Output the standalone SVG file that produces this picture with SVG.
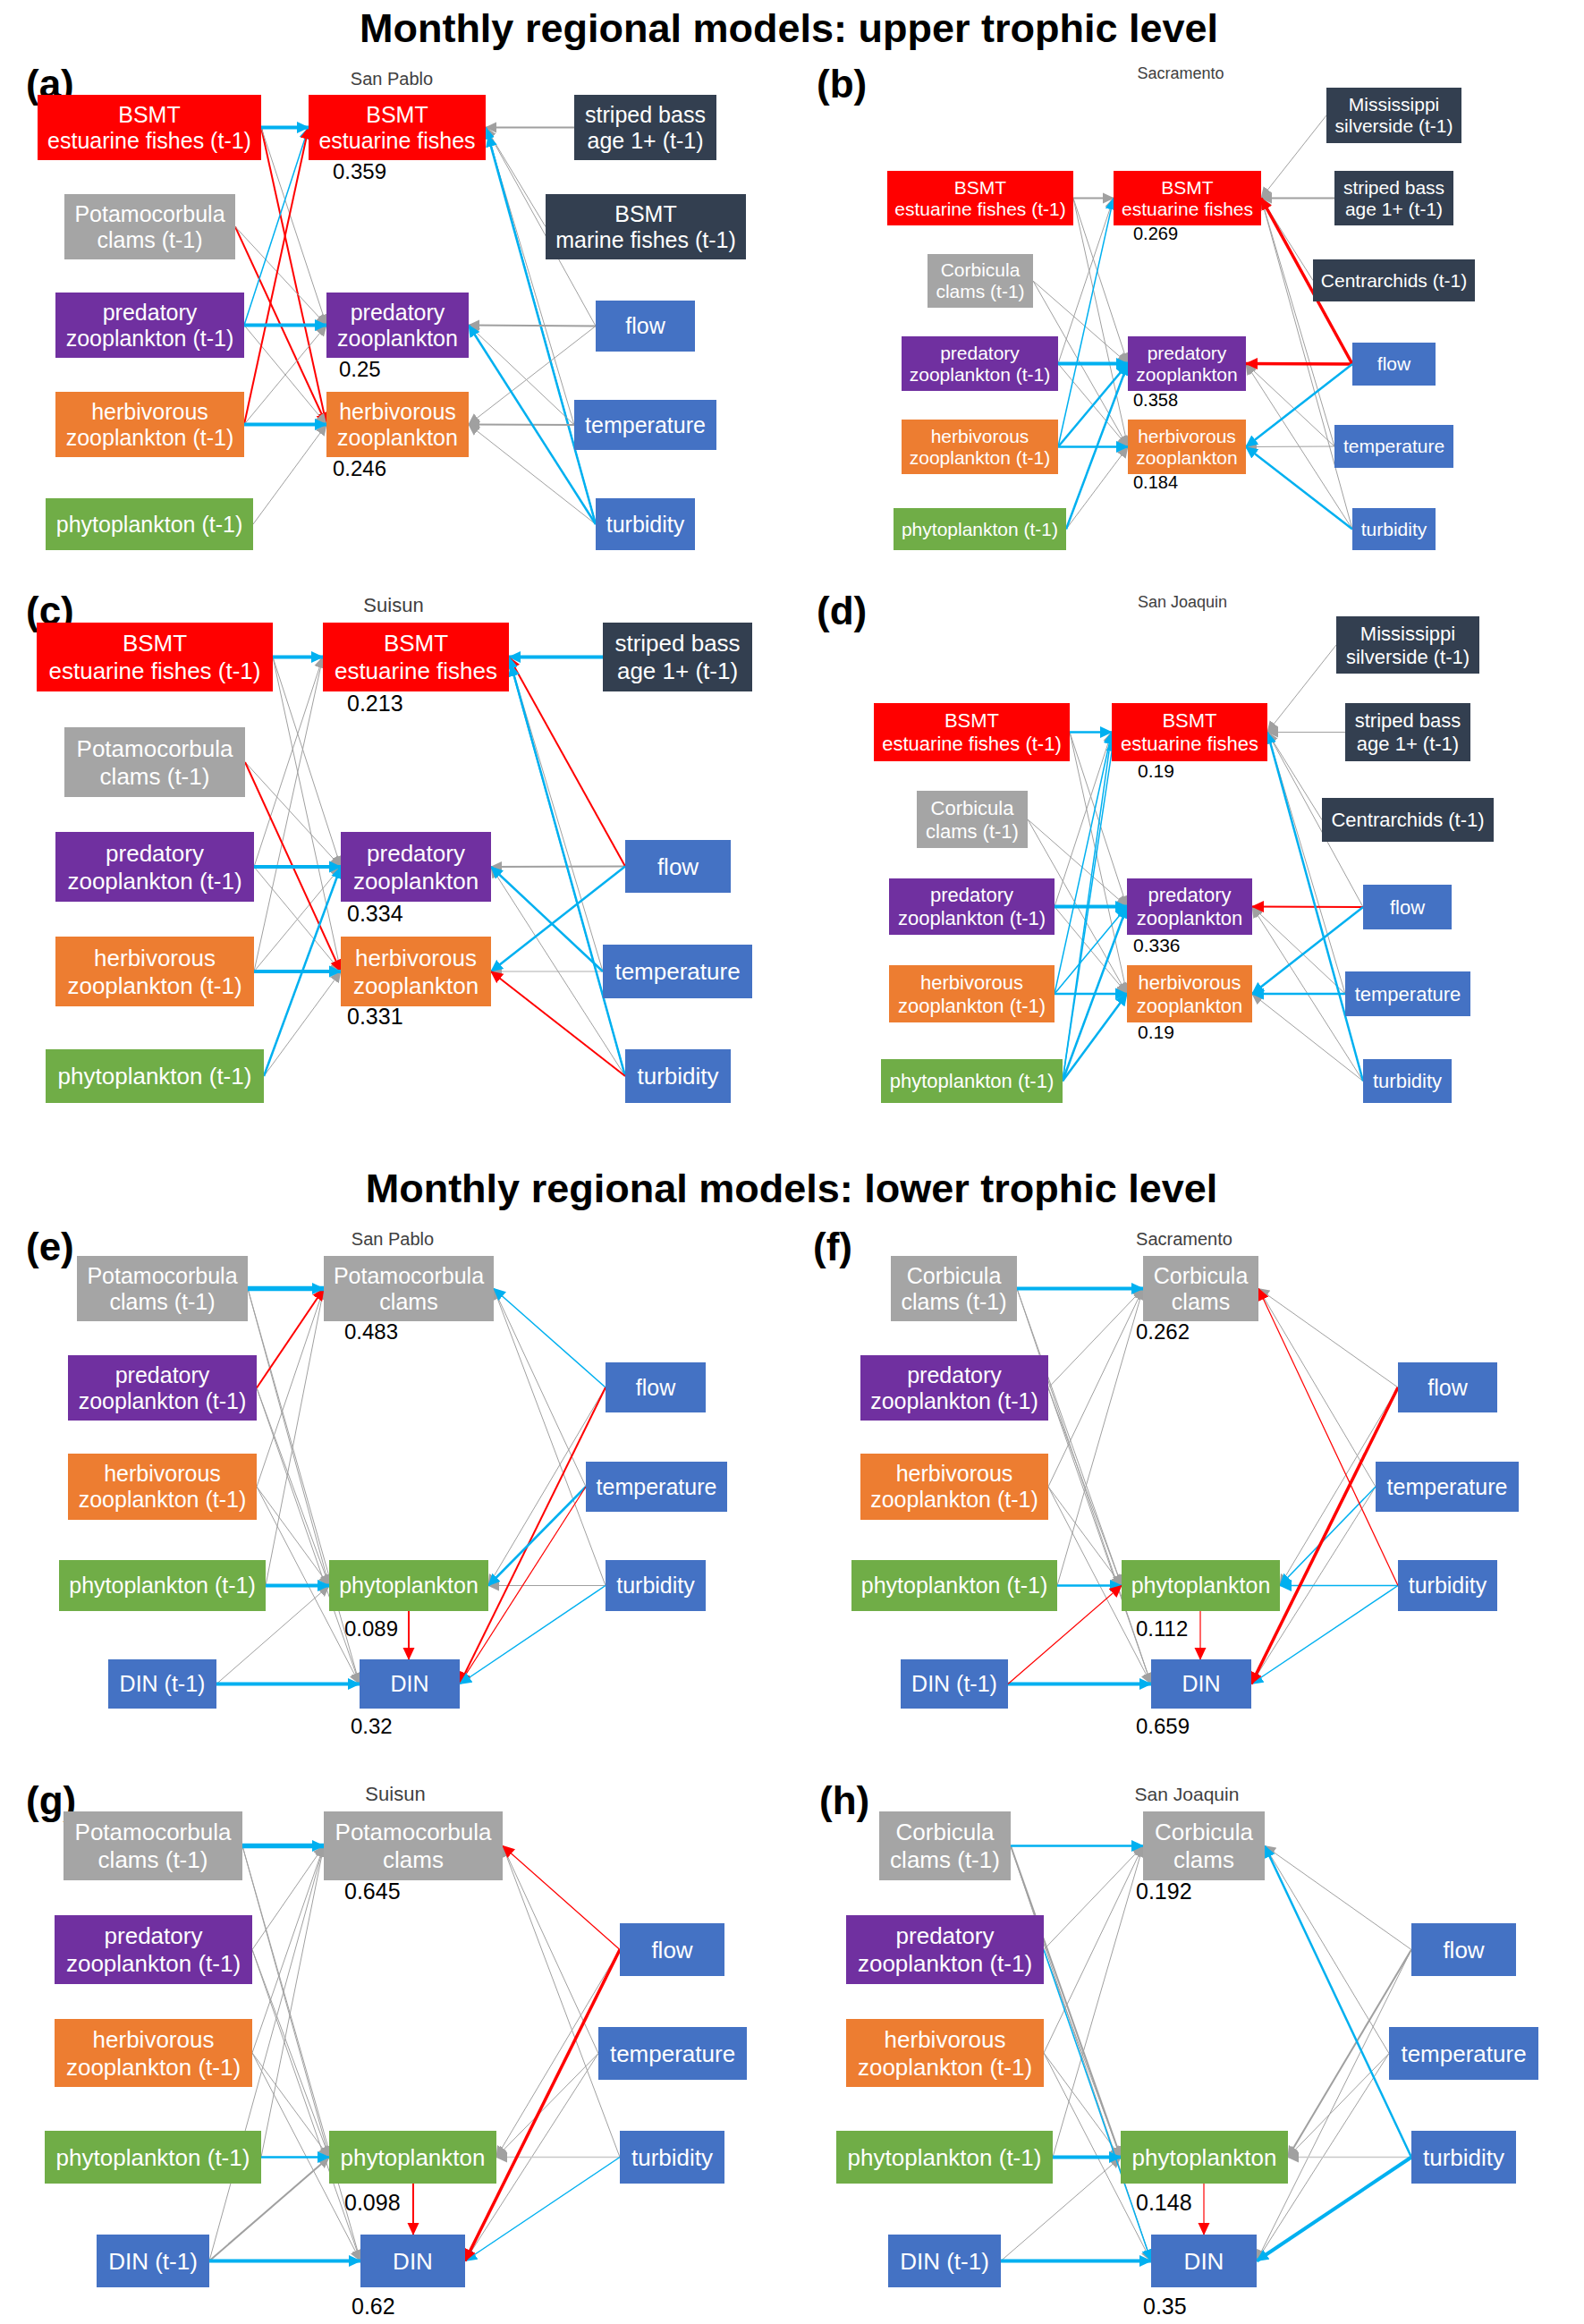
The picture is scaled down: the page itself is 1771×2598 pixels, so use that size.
<svg xmlns="http://www.w3.org/2000/svg" width="1771" height="2598" viewBox="0 0 1771 2598">
<style>
text{font-family:"Liberation Sans",Arial,sans-serif}
.title{font-size:45px;font-weight:bold;text-anchor:middle;fill:#000}
.pl{font-size:44px;font-weight:bold;fill:#000}
.reg{fill:#404040;text-anchor:middle}
.val{fill:#000}
.t21,.t22,.t25,.t26{fill:#fff;text-anchor:middle}
.t21{font-size:21px}.t22{font-size:22px}.t25{font-size:25px}.t26{font-size:26px}
.red{fill:#FF0000}.dk{fill:#333F50}.gr{fill:#A5A5A5}.pu{fill:#7030A0}.or{fill:#ED7D31}.gn{fill:#70AD47}.bl{fill:#4472C4}
line{fill:none}
.bx{stroke:#00B0F0;stroke-width:5.5;marker-end:url(#mb)}
.bt{stroke:#00B0F0;stroke-width:4;marker-end:url(#mb)}
.bm{stroke:#00B0F0;stroke-width:2.5;marker-end:url(#mb)}
.bs{stroke:#00B0F0;stroke-width:1.5;marker-end:url(#mb)}
.gt{stroke:#A0A0A0;stroke-width:2;marker-end:url(#mg)}
.gs{stroke:#A0A0A0;stroke-width:1;marker-end:url(#mg)}
.gl{stroke:#C8C8C8;stroke-width:1.5;marker-end:url(#mg)}
.rt{stroke:#FF0000;stroke-width:3.5;marker-end:url(#mr)}
.rm{stroke:#FF0000;stroke-width:2;marker-end:url(#mr)}
.rs{stroke:#FF0000;stroke-width:1.2;marker-end:url(#mr)}
</style>
<defs>
<marker id="mb" markerUnits="userSpaceOnUse" markerWidth="14" markerHeight="14" viewBox="0 0 14 14" refX="13" refY="7" orient="auto"><path d="M0,0.5 L14,7 L0,13.5 z" fill="#00B0F0"/></marker>
<marker id="mg" markerUnits="userSpaceOnUse" markerWidth="13" markerHeight="13" viewBox="0 0 14 14" refX="13" refY="7" orient="auto"><path d="M0,0.5 L14,7 L0,13.5 z" fill="#A0A0A0"/></marker>
<marker id="mr" markerUnits="userSpaceOnUse" markerWidth="14" markerHeight="14" viewBox="0 0 14 14" refX="13" refY="7" orient="auto"><path d="M0,0.5 L14,7 L0,13.5 z" fill="#FF0000"/></marker>
</defs>
<rect width="1771" height="2598" fill="#fff"/>

<text class="title" x="882" y="47">Monthly regional models: upper trophic level</text>
<text class="title" x="885" y="1344">Monthly regional models: lower trophic level</text>

<g id="labels">
<text class="pl" x="29" y="109">(a)</text>
<text class="pl" x="913" y="109">(b)</text>
<text class="pl" x="29" y="698">(c)</text>
<text class="pl" x="913" y="698">(d)</text>
<text class="pl" x="29" y="1409">(e)</text>
<text class="pl" x="909" y="1409">(f)</text>
<text class="pl" x="29" y="2028">(g)</text>
<text class="pl" x="916" y="2028">(h)</text>
<text class="reg" x="438" y="95" font-size="20">San Pablo</text>
<text class="reg" x="1320" y="88" font-size="18">Sacramento</text>
<text class="reg" x="440" y="684" font-size="22">Suisun</text>
<text class="reg" x="1322" y="679" font-size="18">San Joaquin</text>
<text class="reg" x="439" y="1392" font-size="20">San Pablo</text>
<text class="reg" x="1324" y="1392" font-size="20">Sacramento</text>
<text class="reg" x="442" y="2013" font-size="22">Suisun</text>
<text class="reg" x="1327" y="2013" font-size="21">San Joaquin</text>
<text class="val" x="372" y="200" font-size="24">0.359</text>
<text class="val" x="379" y="421" font-size="24">0.25</text>
<text class="val" x="372" y="532" font-size="24">0.246</text>
<text class="val" x="1267" y="268" font-size="20">0.269</text>
<text class="val" x="1267" y="454" font-size="20">0.358</text>
<text class="val" x="1267" y="546" font-size="20">0.184</text>
<text class="val" x="388" y="795" font-size="25">0.213</text>
<text class="val" x="388" y="1030" font-size="25">0.334</text>
<text class="val" x="388" y="1145" font-size="25">0.331</text>
<text class="val" x="1272" y="869" font-size="21">0.19</text>
<text class="val" x="1267" y="1064" font-size="21">0.336</text>
<text class="val" x="1272" y="1161" font-size="21">0.19</text>
<text class="val" x="385" y="1497" font-size="24">0.483</text>
<text class="val" x="385" y="1829" font-size="24">0.089</text>
<text class="val" x="392" y="1938" font-size="24">0.32</text>
<text class="val" x="1270" y="1497" font-size="24">0.262</text>
<text class="val" x="1270" y="1829" font-size="24">0.112</text>
<text class="val" x="1270" y="1938" font-size="24">0.659</text>
<text class="val" x="385" y="2123" font-size="25">0.645</text>
<text class="val" x="385" y="2471" font-size="25">0.098</text>
<text class="val" x="393" y="2587" font-size="25">0.62</text>
<text class="val" x="1270" y="2123" font-size="25">0.192</text>
<text class="val" x="1270" y="2471" font-size="25">0.148</text>
<text class="val" x="1278" y="2587" font-size="25">0.35</text>
</g>

<g id="connectors">
<!-- (a) -->
<line x1="292" y1="142.5" x2="365" y2="474.5" class="rm"/>
<line x1="292" y1="142.5" x2="365" y2="363.5" class="gs"/>
<line x1="263" y1="253.5" x2="365" y2="474.5" class="rm"/>
<line x1="263" y1="253.5" x2="365" y2="363.5" class="gs"/>
<line x1="273" y1="363.5" x2="345" y2="142.5" class="bs"/>
<line x1="273" y1="363.5" x2="365" y2="474.5" class="gs"/>
<line x1="273" y1="474.5" x2="345" y2="142.5" class="rm"/>
<line x1="273" y1="474.5" x2="365" y2="363.5" class="gs"/>
<line x1="283" y1="586" x2="365" y2="474.5" class="gs"/>
<line x1="292" y1="142.5" x2="345" y2="142.5" class="bt"/>
<line x1="273" y1="363.5" x2="365" y2="363.5" class="bt"/>
<line x1="273" y1="474.5" x2="365" y2="474.5" class="bt"/>
<line x1="642" y1="142.5" x2="543" y2="142.5" class="gt"/>
<line x1="610" y1="253.5" x2="543" y2="142.5" class="gs"/>
<line x1="666" y1="364.5" x2="543" y2="142.5" class="gs"/>
<line x1="642" y1="475" x2="543" y2="142.5" class="gs"/>
<line x1="666" y1="586" x2="543" y2="142.5" class="bm"/>
<line x1="666" y1="586" x2="546" y2="151" class="bs"/>
<line x1="666" y1="364.5" x2="524" y2="363.5" class="gt"/>
<line x1="666" y1="364.5" x2="524" y2="474.5" class="gs"/>
<line x1="642" y1="475" x2="524" y2="363.5" class="gs"/>
<line x1="642" y1="475" x2="524" y2="474.5" class="gt"/>
<line x1="666" y1="586" x2="524" y2="474.5" class="gs"/>
<line x1="666" y1="586" x2="524" y2="363.5" class="bm"/>
<!-- (b) -->
<line x1="1200" y1="221.5" x2="1245" y2="221.5" class="gt"/>
<line x1="1200" y1="221.5" x2="1261" y2="406.5" class="gs"/>
<line x1="1200" y1="221.5" x2="1261" y2="499.5" class="gs"/>
<line x1="1155" y1="314" x2="1261" y2="406.5" class="gs"/>
<line x1="1155" y1="314" x2="1261" y2="499.5" class="gs"/>
<line x1="1183" y1="406.5" x2="1245" y2="221.5" class="gs"/>
<line x1="1183" y1="406.5" x2="1261" y2="499.5" class="gs"/>
<line x1="1192" y1="591.5" x2="1261" y2="499.5" class="gs"/>
<line x1="1183" y1="406.5" x2="1261" y2="406.5" class="bt"/>
<line x1="1183" y1="499.5" x2="1261" y2="499.5" class="bm"/>
<line x1="1183" y1="499.5" x2="1245" y2="221.5" class="bs"/>
<line x1="1183" y1="499.5" x2="1261" y2="406.5" class="bm"/>
<line x1="1192" y1="591.5" x2="1261" y2="406.5" class="bm"/>
<line x1="1483" y1="129" x2="1410" y2="221.5" class="gs"/>
<line x1="1492" y1="221.5" x2="1410" y2="221.5" class="gt"/>
<line x1="1468" y1="313.5" x2="1410" y2="221.5" class="gs"/>
<line x1="1492" y1="499" x2="1410" y2="221.5" class="gs"/>
<line x1="1492" y1="499" x2="1393" y2="406.5" class="gs"/>
<line x1="1492" y1="499" x2="1393" y2="499.5" class="gs"/>
<line x1="1512" y1="591.5" x2="1410" y2="221.5" class="gs"/>
<line x1="1512" y1="591.5" x2="1393" y2="406.5" class="gs"/>
<line x1="1512" y1="407" x2="1410" y2="221.5" class="rt"/>
<line x1="1512" y1="407" x2="1393" y2="406.5" class="rt"/>
<line x1="1512" y1="407" x2="1393" y2="499.5" class="bm"/>
<line x1="1512" y1="591.5" x2="1393" y2="499.5" class="bm"/>
<!-- (c) -->
<line x1="305" y1="734.5" x2="381" y2="969" class="gs"/>
<line x1="305" y1="734.5" x2="381" y2="1086" class="gs"/>
<line x1="274" y1="852" x2="381" y2="969" class="gs"/>
<line x1="284" y1="969" x2="361" y2="734.5" class="gs"/>
<line x1="284" y1="969" x2="381" y2="1086" class="gs"/>
<line x1="284" y1="1086" x2="361" y2="734.5" class="gs"/>
<line x1="284" y1="1086" x2="381" y2="969" class="gs"/>
<line x1="295" y1="1203" x2="381" y2="1086" class="gs"/>
<line x1="274" y1="852" x2="381" y2="1086" class="rm"/>
<line x1="305" y1="734.5" x2="361" y2="734.5" class="bt"/>
<line x1="284" y1="969" x2="381" y2="969" class="bt"/>
<line x1="284" y1="1086" x2="381" y2="1086" class="bt"/>
<line x1="295" y1="1203" x2="381" y2="969" class="bm"/>
<line x1="674" y1="1086" x2="549" y2="1086" class="gl"/>
<line x1="674" y1="1086" x2="569" y2="734.5" class="gs"/>
<line x1="699" y1="1203" x2="549" y2="969" class="gs"/>
<line x1="699" y1="968.5" x2="549" y2="969" class="gt"/>
<line x1="674" y1="734.5" x2="569" y2="734.5" class="bt"/>
<line x1="699" y1="968.5" x2="569" y2="734.5" class="rm"/>
<line x1="699" y1="968.5" x2="549" y2="1086" class="bm"/>
<line x1="674" y1="1086" x2="549" y2="969" class="bm"/>
<line x1="699" y1="1203" x2="569" y2="734.5" class="bm"/>
<line x1="699" y1="1203" x2="571" y2="743" class="bs"/>
<line x1="699" y1="1203" x2="549" y2="1086" class="rm"/>
<!-- (d) -->
<line x1="1196" y1="818.5" x2="1260" y2="1013.5" class="gs"/>
<line x1="1196" y1="818.5" x2="1260" y2="1111" class="gs"/>
<line x1="1149" y1="916" x2="1260" y2="1013.5" class="gs"/>
<line x1="1149" y1="916" x2="1260" y2="1111" class="gs"/>
<line x1="1179" y1="1013.5" x2="1243" y2="818.5" class="gs"/>
<line x1="1179" y1="1013.5" x2="1260" y2="1111" class="gs"/>
<line x1="1196" y1="818.5" x2="1243" y2="818.5" class="bm"/>
<line x1="1179" y1="1013.5" x2="1260" y2="1013.5" class="bt"/>
<line x1="1179" y1="1111" x2="1260" y2="1111" class="bm"/>
<line x1="1179" y1="1111" x2="1243" y2="818.5" class="bs"/>
<line x1="1179" y1="1111" x2="1260" y2="1013.5" class="bs"/>
<line x1="1188" y1="1208.5" x2="1243" y2="818.5" class="bs"/>
<line x1="1188" y1="1208.5" x2="1245" y2="827" class="bs"/>
<line x1="1188" y1="1208.5" x2="1260" y2="1013.5" class="bm"/>
<line x1="1188" y1="1208.5" x2="1260" y2="1111" class="bm"/>
<line x1="1494" y1="721" x2="1417" y2="818.5" class="gs"/>
<line x1="1504" y1="818.5" x2="1417" y2="818.5" class="gs"/>
<line x1="1478" y1="916.5" x2="1417" y2="818.5" class="gs"/>
<line x1="1524" y1="1014" x2="1417" y2="818.5" class="gs"/>
<line x1="1504" y1="1111" x2="1400" y2="1013.5" class="gs"/>
<line x1="1504" y1="1111" x2="1417" y2="818.5" class="gs"/>
<line x1="1524" y1="1208.5" x2="1400" y2="1013.5" class="gs"/>
<line x1="1524" y1="1208.5" x2="1400" y2="1111" class="gs"/>
<line x1="1524" y1="1014" x2="1400" y2="1013.5" class="rm"/>
<line x1="1524" y1="1014" x2="1400" y2="1111" class="bm"/>
<line x1="1504" y1="1111" x2="1400" y2="1111" class="bm"/>
<line x1="1524" y1="1208.5" x2="1417" y2="818.5" class="bm"/>
<!-- (e) -->
<line x1="277" y1="1440.5" x2="368" y2="1772.5" class="gs"/>
<line x1="277" y1="1440.5" x2="402" y2="1882.5" class="gs"/>
<line x1="287" y1="1551.5" x2="368" y2="1772.5" class="gs"/>
<line x1="287" y1="1551.5" x2="402" y2="1882.5" class="gs"/>
<line x1="287" y1="1662" x2="362" y2="1440.5" class="gs"/>
<line x1="287" y1="1662" x2="368" y2="1772.5" class="gs"/>
<line x1="287" y1="1662" x2="402" y2="1882.5" class="gs"/>
<line x1="297" y1="1772.5" x2="362" y2="1440.5" class="gs"/>
<line x1="242" y1="1882.5" x2="368" y2="1772.5" class="gs" stroke-width="0.7"/>
<line x1="287" y1="1551.5" x2="362" y2="1440.5" class="rm"/>
<line x1="277" y1="1440.5" x2="362" y2="1440.5" class="bx"/>
<line x1="297" y1="1772.5" x2="368" y2="1772.5" class="bt"/>
<line x1="242" y1="1882.5" x2="402" y2="1882.5" class="bt"/>
<line x1="457" y1="1801" x2="457" y2="1855" class="rm"/>
<line x1="677" y1="1551" x2="546" y2="1772.5" class="gs"/>
<line x1="655" y1="1662" x2="552" y2="1440.5" class="gs"/>
<line x1="677" y1="1772.5" x2="546" y2="1772.5" class="gs"/>
<line x1="677" y1="1772.5" x2="552" y2="1440.5" class="gs"/>
<line x1="677" y1="1551" x2="552" y2="1440.5" class="bs"/>
<line x1="677" y1="1551" x2="514" y2="1882.5" class="rm"/>
<line x1="655" y1="1662" x2="546" y2="1772.5" class="bm"/>
<line x1="655" y1="1662" x2="514" y2="1882.5" class="rs"/>
<line x1="677" y1="1772.5" x2="514" y2="1882.5" class="bs"/>
<!-- (f) -->
<line x1="1137" y1="1440.5" x2="1254" y2="1772.5" class="gs"/>
<line x1="1137" y1="1440.5" x2="1287" y2="1882.5" class="gs"/>
<line x1="1172" y1="1551.5" x2="1278" y2="1440.5" class="gs"/>
<line x1="1172" y1="1551.5" x2="1254" y2="1772.5" class="gs"/>
<line x1="1172" y1="1551.5" x2="1287" y2="1882.5" class="gs"/>
<line x1="1172" y1="1662" x2="1278" y2="1440.5" class="gs"/>
<line x1="1172" y1="1662" x2="1254" y2="1772.5" class="gs"/>
<line x1="1172" y1="1662" x2="1287" y2="1882.5" class="gs"/>
<line x1="1182" y1="1772.5" x2="1278" y2="1440.5" class="gs"/>
<line x1="1137" y1="1440.5" x2="1278" y2="1440.5" class="bt"/>
<line x1="1182" y1="1772.5" x2="1254" y2="1772.5" class="bm"/>
<line x1="1127" y1="1882.5" x2="1287" y2="1882.5" class="bt"/>
<line x1="1127" y1="1882.5" x2="1254" y2="1772.5" class="rs"/>
<line x1="1342" y1="1801" x2="1342" y2="1855" class="rs"/>
<line x1="1563" y1="1551" x2="1407" y2="1440.5" class="gs"/>
<line x1="1563" y1="1551" x2="1431" y2="1772.5" class="gs"/>
<line x1="1538" y1="1662" x2="1399" y2="1882.5" class="gs"/>
<line x1="1538" y1="1662" x2="1407" y2="1440.5" class="gs"/>
<line x1="1538" y1="1662" x2="1431" y2="1772.5" class="bs"/>
<line x1="1563" y1="1772.5" x2="1431" y2="1772.5" class="bs"/>
<line x1="1563" y1="1772.5" x2="1399" y2="1882.5" class="bs"/>
<line x1="1563" y1="1772.5" x2="1407" y2="1440.5" class="rs"/>
<line x1="1563" y1="1551" x2="1399" y2="1882.5" class="rt"/>
<!-- (g) -->
<line x1="271" y1="2063.5" x2="368" y2="2411.5" class="gs"/>
<line x1="271" y1="2063.5" x2="403" y2="2527.5" class="gs"/>
<line x1="282" y1="2179.5" x2="362" y2="2063.5" class="gs"/>
<line x1="282" y1="2179.5" x2="368" y2="2411.5" class="gs"/>
<line x1="282" y1="2179.5" x2="403" y2="2527.5" class="gs"/>
<line x1="282" y1="2295" x2="362" y2="2063.5" class="gs"/>
<line x1="282" y1="2295" x2="368" y2="2411.5" class="gs"/>
<line x1="282" y1="2295" x2="403" y2="2527.5" class="gs"/>
<line x1="292" y1="2411.5" x2="362" y2="2063.5" class="gs"/>
<line x1="234" y1="2527.5" x2="362" y2="2063.5" class="gs" stroke-width="0.7"/>
<line x1="234" y1="2527.5" x2="368" y2="2411.5" class="gt"/>
<line x1="271" y1="2063.5" x2="362" y2="2063.5" class="bx"/>
<line x1="292" y1="2411.5" x2="368" y2="2411.5" class="bm"/>
<line x1="234" y1="2527.5" x2="403" y2="2527.5" class="bt"/>
<line x1="462" y1="2441" x2="462" y2="2498" class="rm"/>
<line x1="693" y1="2179.5" x2="555" y2="2411.5" class="gs"/>
<line x1="669" y1="2295.5" x2="555" y2="2411.5" class="gs"/>
<line x1="669" y1="2295.5" x2="562" y2="2063.5" class="gs"/>
<line x1="669" y1="2295.5" x2="520" y2="2527.5" class="gs"/>
<line x1="693" y1="2411.5" x2="555" y2="2411.5" class="gl"/>
<line x1="693" y1="2411.5" x2="562" y2="2063.5" class="gs"/>
<line x1="693" y1="2411.5" x2="520" y2="2527.5" class="bs"/>
<line x1="693" y1="2179.5" x2="562" y2="2063.5" class="rs"/>
<line x1="693" y1="2179.5" x2="520" y2="2527.5" class="rt"/>
<!-- (h) -->
<line x1="1130" y1="2063.5" x2="1253" y2="2411.5" class="gt"/>
<line x1="1130" y1="2063.5" x2="1287" y2="2527.5" class="gs"/>
<line x1="1167" y1="2179.5" x2="1278" y2="2063.5" class="gs"/>
<line x1="1167" y1="2179.5" x2="1253" y2="2411.5" class="gs"/>
<line x1="1167" y1="2295" x2="1278" y2="2063.5" class="gs"/>
<line x1="1167" y1="2295" x2="1253" y2="2411.5" class="gs"/>
<line x1="1167" y1="2295" x2="1287" y2="2527.5" class="gs"/>
<line x1="1177" y1="2411.5" x2="1278" y2="2063.5" class="gs"/>
<line x1="1119" y1="2527.5" x2="1253" y2="2411.5" class="gs"/>
<line x1="1167" y1="2179.5" x2="1287" y2="2527.5" class="bs"/>
<line x1="1130" y1="2063.5" x2="1278" y2="2063.5" class="bm"/>
<line x1="1177" y1="2411.5" x2="1253" y2="2411.5" class="bt"/>
<line x1="1119" y1="2527.5" x2="1287" y2="2527.5" class="bt"/>
<line x1="1346" y1="2441" x2="1346" y2="2498" class="rs"/>
<line x1="1578" y1="2179.5" x2="1414" y2="2063.5" class="gs"/>
<line x1="1578" y1="2179.5" x2="1440" y2="2411.5" class="gt"/>
<line x1="1578" y1="2179.5" x2="1405" y2="2527.5" class="gs"/>
<line x1="1553" y1="2295.5" x2="1414" y2="2063.5" class="gs"/>
<line x1="1553" y1="2295.5" x2="1440" y2="2411.5" class="gs"/>
<line x1="1553" y1="2295.5" x2="1405" y2="2527.5" class="gs"/>
<line x1="1578" y1="2411.5" x2="1440" y2="2411.5" class="gl"/>
<line x1="1578" y1="2411.5" x2="1414" y2="2063.5" class="bm"/>
<line x1="1578" y1="2411.5" x2="1405" y2="2527.5" class="bt"/>
</g>

<!-- (a) nodes -->
<g id="a-bsmt-t1"><rect class="red" x="42" y="106" width="250" height="73"/><text class="t25" x="167" y="136.75"><tspan x="167">BSMT</tspan><tspan x="167" dy="29">estuarine fishes (t-1)</tspan></text></g>
<g id="a-bsmt"><rect class="red" x="345" y="106" width="198" height="73"/><text class="t25" x="444" y="136.75"><tspan x="444">BSMT</tspan><tspan x="444" dy="29">estuarine fishes</tspan></text></g>
<g id="a-sb"><rect class="dk" x="642" y="106" width="159" height="73"/><text class="t25" x="721.5" y="136.75"><tspan x="721.5">striped bass</tspan><tspan x="721.5" dy="29">age 1+ (t-1)</tspan></text></g>
<g id="a-pot-t1"><rect class="gr" x="72" y="217" width="191" height="73"/><text class="t25" x="167.5" y="247.75"><tspan x="167.5">Potamocorbula</tspan><tspan x="167.5" dy="29">clams (t-1)</tspan></text></g>
<g id="a-mar"><rect class="dk" x="610" y="217" width="224" height="73"/><text class="t25" x="722" y="247.75"><tspan x="722">BSMT</tspan><tspan x="722" dy="29">marine fishes (t-1)</tspan></text></g>
<g id="a-pz-t1"><rect class="pu" x="62" y="327" width="211" height="73"/><text class="t25" x="167.5" y="357.75"><tspan x="167.5">predatory</tspan><tspan x="167.5" dy="29">zooplankton (t-1)</tspan></text></g>
<g id="a-pz"><rect class="pu" x="365" y="327" width="159" height="73"/><text class="t25" x="444.5" y="357.75"><tspan x="444.5">predatory</tspan><tspan x="444.5" dy="29">zooplankton</tspan></text></g>
<g id="a-flow"><rect class="bl" x="666" y="336" width="111" height="57"/><text class="t25" x="721.5" y="373.25">flow</text></g>
<g id="a-hz-t1"><rect class="or" x="62" y="438" width="211" height="73"/><text class="t25" x="167.5" y="468.75"><tspan x="167.5">herbivorous</tspan><tspan x="167.5" dy="29">zooplankton (t-1)</tspan></text></g>
<g id="a-hz"><rect class="or" x="365" y="438" width="159" height="73"/><text class="t25" x="444.5" y="468.75"><tspan x="444.5">herbivorous</tspan><tspan x="444.5" dy="29">zooplankton</tspan></text></g>
<g id="a-temp"><rect class="bl" x="642" y="447" width="159" height="56"/><text class="t25" x="721.5" y="483.75">temperature</text></g>
<g id="a-phy-t1"><rect class="gn" x="51" y="557" width="232" height="58"/><text class="t25" x="167" y="594.75">phytoplankton (t-1)</text></g>
<g id="a-turb"><rect class="bl" x="666" y="557" width="111" height="58"/><text class="t25" x="721.5" y="594.75">turbidity</text></g>

<!-- (b) nodes -->
<g id="b-bsmt-t1"><rect class="red" x="992" y="191" width="208" height="61"/><text class="t21" x="1096" y="216.85"><tspan x="1096">BSMT</tspan><tspan x="1096" dy="24">estuarine fishes (t-1)</tspan></text></g>
<g id="b-bsmt"><rect class="red" x="1245" y="191" width="165" height="61"/><text class="t21" x="1327.5" y="216.85"><tspan x="1327.5">BSMT</tspan><tspan x="1327.5" dy="24">estuarine fishes</tspan></text></g>
<g id="b-miss"><rect class="dk" x="1483" y="98" width="151" height="62"/><text class="t21" x="1558.5" y="124.35"><tspan x="1558.5">Mississippi</tspan><tspan x="1558.5" dy="24">silverside (t-1)</tspan></text></g>
<g id="b-sb"><rect class="dk" x="1492" y="191" width="133" height="61"/><text class="t21" x="1558.5" y="216.85"><tspan x="1558.5">striped bass</tspan><tspan x="1558.5" dy="24">age 1+ (t-1)</tspan></text></g>
<g id="b-corb-t1"><rect class="gr" x="1037" y="284" width="118" height="60"/><text class="t21" x="1096" y="309.35"><tspan x="1096">Corbicula</tspan><tspan x="1096" dy="24">clams (t-1)</tspan></text></g>
<g id="b-cent"><rect class="dk" x="1468" y="290" width="181" height="47"/><text class="t21" x="1558.5" y="320.85">Centrarchids (t-1)</text></g>
<g id="b-pz-t1"><rect class="pu" x="1008" y="376" width="175" height="61"/><text class="t21" x="1095.5" y="401.85"><tspan x="1095.5">predatory</tspan><tspan x="1095.5" dy="24">zooplankton (t-1)</tspan></text></g>
<g id="b-pz"><rect class="pu" x="1261" y="376" width="132" height="61"/><text class="t21" x="1327" y="401.85"><tspan x="1327">predatory</tspan><tspan x="1327" dy="24">zooplankton</tspan></text></g>
<g id="b-flow"><rect class="bl" x="1512" y="383" width="93" height="48"/><text class="t21" x="1558.5" y="414.35">flow</text></g>
<g id="b-hz-t1"><rect class="or" x="1008" y="469" width="175" height="61"/><text class="t21" x="1095.5" y="494.85"><tspan x="1095.5">herbivorous</tspan><tspan x="1095.5" dy="24">zooplankton (t-1)</tspan></text></g>
<g id="b-hz"><rect class="or" x="1261" y="469" width="132" height="61"/><text class="t21" x="1327" y="494.85"><tspan x="1327">herbivorous</tspan><tspan x="1327" dy="24">zooplankton</tspan></text></g>
<g id="b-temp"><rect class="bl" x="1492" y="475" width="133" height="48"/><text class="t21" x="1558.5" y="506.35">temperature</text></g>
<g id="b-phy-t1"><rect class="gn" x="999" y="568" width="193" height="47"/><text class="t21" x="1095.5" y="598.85">phytoplankton (t-1)</text></g>
<g id="b-turb"><rect class="bl" x="1512" y="568" width="93" height="47"/><text class="t21" x="1558.5" y="598.85">turbidity</text></g>

<!-- (c) nodes -->
<g id="c-bsmt-t1"><rect class="red" x="41" y="696" width="264" height="77"/><text class="t26" x="173" y="728.1"><tspan x="173">BSMT</tspan><tspan x="173" dy="31">estuarine fishes (t-1)</tspan></text></g>
<g id="c-bsmt"><rect class="red" x="361" y="696" width="208" height="77"/><text class="t26" x="465" y="728.1"><tspan x="465">BSMT</tspan><tspan x="465" dy="31">estuarine fishes</tspan></text></g>
<g id="c-sb"><rect class="dk" x="674" y="696" width="167" height="77"/><text class="t26" x="757.5" y="728.1"><tspan x="757.5">striped bass</tspan><tspan x="757.5" dy="31">age 1+ (t-1)</tspan></text></g>
<g id="c-pot-t1"><rect class="gr" x="72" y="813" width="202" height="78"/><text class="t26" x="173" y="845.6"><tspan x="173">Potamocorbula</tspan><tspan x="173" dy="31">clams (t-1)</tspan></text></g>
<g id="c-pz-t1"><rect class="pu" x="62" y="930" width="222" height="78"/><text class="t26" x="173" y="962.6"><tspan x="173">predatory</tspan><tspan x="173" dy="31">zooplankton (t-1)</tspan></text></g>
<g id="c-pz"><rect class="pu" x="381" y="930" width="168" height="78"/><text class="t26" x="465" y="962.6"><tspan x="465">predatory</tspan><tspan x="465" dy="31">zooplankton</tspan></text></g>
<g id="c-flow"><rect class="bl" x="699" y="939" width="118" height="59"/><text class="t26" x="758" y="977.6">flow</text></g>
<g id="c-hz-t1"><rect class="or" x="62" y="1047" width="222" height="78"/><text class="t26" x="173" y="1079.6"><tspan x="173">herbivorous</tspan><tspan x="173" dy="31">zooplankton (t-1)</tspan></text></g>
<g id="c-hz"><rect class="or" x="381" y="1047" width="168" height="78"/><text class="t26" x="465" y="1079.6"><tspan x="465">herbivorous</tspan><tspan x="465" dy="31">zooplankton</tspan></text></g>
<g id="c-temp"><rect class="bl" x="674" y="1056" width="167" height="60"/><text class="t26" x="757.5" y="1095.1">temperature</text></g>
<g id="c-phy-t1"><rect class="gn" x="51" y="1173" width="244" height="60"/><text class="t26" x="173" y="1212.1">phytoplankton (t-1)</text></g>
<g id="c-turb"><rect class="bl" x="699" y="1173" width="118" height="60"/><text class="t26" x="758" y="1212.1">turbidity</text></g>

<!-- (d) nodes -->
<g id="d-bsmt-t1"><rect class="red" x="977" y="786" width="219" height="65"/><text class="t22" x="1086.5" y="813.2"><tspan x="1086.5">BSMT</tspan><tspan x="1086.5" dy="26">estuarine fishes (t-1)</tspan></text></g>
<g id="d-bsmt"><rect class="red" x="1243" y="786" width="174" height="65"/><text class="t22" x="1330" y="813.2"><tspan x="1330">BSMT</tspan><tspan x="1330" dy="26">estuarine fishes</tspan></text></g>
<g id="d-miss"><rect class="dk" x="1494" y="689" width="160" height="64"/><text class="t22" x="1574" y="715.7"><tspan x="1574">Mississippi</tspan><tspan x="1574" dy="26">silverside (t-1)</tspan></text></g>
<g id="d-sb"><rect class="dk" x="1504" y="786" width="140" height="65"/><text class="t22" x="1574" y="813.2"><tspan x="1574">striped bass</tspan><tspan x="1574" dy="26">age 1+ (t-1)</tspan></text></g>
<g id="d-corb-t1"><rect class="gr" x="1025" y="884" width="124" height="64"/><text class="t22" x="1087" y="910.7"><tspan x="1087">Corbicula</tspan><tspan x="1087" dy="26">clams (t-1)</tspan></text></g>
<g id="d-cent"><rect class="dk" x="1478" y="892" width="192" height="49"/><text class="t22" x="1574" y="924.2">Centrarchids (t-1)</text></g>
<g id="d-pz-t1"><rect class="pu" x="994" y="982" width="185" height="63"/><text class="t22" x="1086.5" y="1008.2"><tspan x="1086.5">predatory</tspan><tspan x="1086.5" dy="26">zooplankton (t-1)</tspan></text></g>
<g id="d-pz"><rect class="pu" x="1260" y="982" width="140" height="63"/><text class="t22" x="1330" y="1008.2"><tspan x="1330">predatory</tspan><tspan x="1330" dy="26">zooplankton</tspan></text></g>
<g id="d-flow"><rect class="bl" x="1524" y="989" width="99" height="50"/><text class="t22" x="1573.5" y="1021.7">flow</text></g>
<g id="d-hz-t1"><rect class="or" x="994" y="1079" width="185" height="64"/><text class="t22" x="1086.5" y="1105.7"><tspan x="1086.5">herbivorous</tspan><tspan x="1086.5" dy="26">zooplankton (t-1)</tspan></text></g>
<g id="d-hz"><rect class="or" x="1260" y="1079" width="140" height="64"/><text class="t22" x="1330" y="1105.7"><tspan x="1330">herbivorous</tspan><tspan x="1330" dy="26">zooplankton</tspan></text></g>
<g id="d-temp"><rect class="bl" x="1504" y="1086" width="140" height="50"/><text class="t22" x="1574" y="1118.7">temperature</text></g>
<g id="d-phy-t1"><rect class="gn" x="985" y="1184" width="203" height="49"/><text class="t22" x="1086.5" y="1216.2">phytoplankton (t-1)</text></g>
<g id="d-turb"><rect class="bl" x="1524" y="1184" width="99" height="49"/><text class="t22" x="1573.5" y="1216.2">turbidity</text></g>

<!-- (e) nodes -->
<g id="e-pot-t1"><rect class="gr" x="86" y="1404" width="191" height="73"/><text class="t25" x="181.5" y="1434.75"><tspan x="181.5">Potamocorbula</tspan><tspan x="181.5" dy="29">clams (t-1)</tspan></text></g>
<g id="e-pot"><rect class="gr" x="362" y="1404" width="190" height="73"/><text class="t25" x="457" y="1434.75"><tspan x="457">Potamocorbula</tspan><tspan x="457" dy="29">clams</tspan></text></g>
<g id="e-pz-t1"><rect class="pu" x="76" y="1515" width="211" height="73"/><text class="t25" x="181.5" y="1545.75"><tspan x="181.5">predatory</tspan><tspan x="181.5" dy="29">zooplankton (t-1)</tspan></text></g>
<g id="e-flow"><rect class="bl" x="677" y="1523" width="112" height="56"/><text class="t25" x="733" y="1559.75">flow</text></g>
<g id="e-hz-t1"><rect class="or" x="76" y="1625" width="211" height="74"/><text class="t25" x="181.5" y="1656.25"><tspan x="181.5">herbivorous</tspan><tspan x="181.5" dy="29">zooplankton (t-1)</tspan></text></g>
<g id="e-temp"><rect class="bl" x="655" y="1634" width="158" height="56"/><text class="t25" x="734" y="1670.75">temperature</text></g>
<g id="e-phy-t1"><rect class="gn" x="66" y="1744" width="231" height="57"/><text class="t25" x="181.5" y="1781.25">phytoplankton (t-1)</text></g>
<g id="e-phy"><rect class="gn" x="368" y="1744" width="178" height="57"/><text class="t25" x="457" y="1781.25">phytoplankton</text></g>
<g id="e-turb"><rect class="bl" x="677" y="1744" width="112" height="57"/><text class="t25" x="733" y="1781.25">turbidity</text></g>
<g id="e-din-t1"><rect class="bl" x="121" y="1855" width="121" height="55"/><text class="t25" x="181.5" y="1891.25">DIN (t-1)</text></g>
<g id="e-din"><rect class="bl" x="402" y="1855" width="112" height="55"/><text class="t25" x="458" y="1891.25">DIN</text></g>

<!-- (f) nodes -->
<g id="f-corb-t1"><rect class="gr" x="996" y="1404" width="141" height="73"/><text class="t25" x="1066.5" y="1434.75"><tspan x="1066.5">Corbicula</tspan><tspan x="1066.5" dy="29">clams (t-1)</tspan></text></g>
<g id="f-corb"><rect class="gr" x="1278" y="1404" width="129" height="73"/><text class="t25" x="1342.5" y="1434.75"><tspan x="1342.5">Corbicula</tspan><tspan x="1342.5" dy="29">clams</tspan></text></g>
<g id="f-pz-t1"><rect class="pu" x="962" y="1515" width="210" height="73"/><text class="t25" x="1067" y="1545.75"><tspan x="1067">predatory</tspan><tspan x="1067" dy="29">zooplankton (t-1)</tspan></text></g>
<g id="f-flow"><rect class="bl" x="1563" y="1523" width="111" height="56"/><text class="t25" x="1618.5" y="1559.75">flow</text></g>
<g id="f-hz-t1"><rect class="or" x="962" y="1625" width="210" height="74"/><text class="t25" x="1067" y="1656.25"><tspan x="1067">herbivorous</tspan><tspan x="1067" dy="29">zooplankton (t-1)</tspan></text></g>
<g id="f-temp"><rect class="bl" x="1538" y="1634" width="160" height="56"/><text class="t25" x="1618" y="1670.75">temperature</text></g>
<g id="f-phy-t1"><rect class="gn" x="952" y="1744" width="230" height="57"/><text class="t25" x="1067" y="1781.25">phytoplankton (t-1)</text></g>
<g id="f-phy"><rect class="gn" x="1254" y="1744" width="177" height="57"/><text class="t25" x="1342.5" y="1781.25">phytoplankton</text></g>
<g id="f-turb"><rect class="bl" x="1563" y="1744" width="111" height="57"/><text class="t25" x="1618.5" y="1781.25">turbidity</text></g>
<g id="f-din-t1"><rect class="bl" x="1007" y="1855" width="120" height="55"/><text class="t25" x="1067" y="1891.25">DIN (t-1)</text></g>
<g id="f-din"><rect class="bl" x="1287" y="1855" width="112" height="55"/><text class="t25" x="1343" y="1891.25">DIN</text></g>

<!-- (g) nodes -->
<g id="g-pot-t1"><rect class="gr" x="71" y="2025" width="200" height="77"/><text class="t26" x="171" y="2057.1"><tspan x="171">Potamocorbula</tspan><tspan x="171" dy="31">clams (t-1)</tspan></text></g>
<g id="g-pot"><rect class="gr" x="362" y="2025" width="200" height="77"/><text class="t26" x="462" y="2057.1"><tspan x="462">Potamocorbula</tspan><tspan x="462" dy="31">clams</tspan></text></g>
<g id="g-pz-t1"><rect class="pu" x="61" y="2141" width="221" height="77"/><text class="t26" x="171.5" y="2173.1"><tspan x="171.5">predatory</tspan><tspan x="171.5" dy="31">zooplankton (t-1)</tspan></text></g>
<g id="g-flow"><rect class="bl" x="693" y="2150" width="117" height="59"/><text class="t26" x="751.5" y="2188.6">flow</text></g>
<g id="g-hz-t1"><rect class="or" x="61" y="2257" width="221" height="76"/><text class="t26" x="171.5" y="2288.6"><tspan x="171.5">herbivorous</tspan><tspan x="171.5" dy="31">zooplankton (t-1)</tspan></text></g>
<g id="g-temp"><rect class="bl" x="669" y="2266" width="166" height="59"/><text class="t26" x="752" y="2304.6">temperature</text></g>
<g id="g-phy-t1"><rect class="gn" x="50" y="2382" width="242" height="59"/><text class="t26" x="171" y="2420.6">phytoplankton (t-1)</text></g>
<g id="g-phy"><rect class="gn" x="368" y="2382" width="187" height="59"/><text class="t26" x="461.5" y="2420.6">phytoplankton</text></g>
<g id="g-turb"><rect class="bl" x="693" y="2382" width="117" height="59"/><text class="t26" x="751.5" y="2420.6">turbidity</text></g>
<g id="g-din-t1"><rect class="bl" x="108" y="2498" width="126" height="59"/><text class="t26" x="171" y="2536.6">DIN (t-1)</text></g>
<g id="g-din"><rect class="bl" x="403" y="2498" width="117" height="59"/><text class="t26" x="461.5" y="2536.6">DIN</text></g>

<!-- (h) nodes -->
<g id="h-corb-t1"><rect class="gr" x="983" y="2025" width="147" height="77"/><text class="t26" x="1056.5" y="2057.1"><tspan x="1056.5">Corbicula</tspan><tspan x="1056.5" dy="31">clams (t-1)</tspan></text></g>
<g id="h-corb"><rect class="gr" x="1278" y="2025" width="136" height="77"/><text class="t26" x="1346" y="2057.1"><tspan x="1346">Corbicula</tspan><tspan x="1346" dy="31">clams</tspan></text></g>
<g id="h-pz-t1"><rect class="pu" x="946" y="2141" width="221" height="77"/><text class="t26" x="1056.5" y="2173.1"><tspan x="1056.5">predatory</tspan><tspan x="1056.5" dy="31">zooplankton (t-1)</tspan></text></g>
<g id="h-flow"><rect class="bl" x="1578" y="2150" width="117" height="59"/><text class="t26" x="1636.5" y="2188.6">flow</text></g>
<g id="h-hz-t1"><rect class="or" x="946" y="2257" width="221" height="76"/><text class="t26" x="1056.5" y="2288.6"><tspan x="1056.5">herbivorous</tspan><tspan x="1056.5" dy="31">zooplankton (t-1)</tspan></text></g>
<g id="h-temp"><rect class="bl" x="1553" y="2266" width="167" height="59"/><text class="t26" x="1636.5" y="2304.6">temperature</text></g>
<g id="h-phy-t1"><rect class="gn" x="935" y="2382" width="242" height="59"/><text class="t26" x="1056" y="2420.6">phytoplankton (t-1)</text></g>
<g id="h-phy"><rect class="gn" x="1253" y="2382" width="187" height="59"/><text class="t26" x="1346.5" y="2420.6">phytoplankton</text></g>
<g id="h-turb"><rect class="bl" x="1578" y="2382" width="117" height="59"/><text class="t26" x="1636.5" y="2420.6">turbidity</text></g>
<g id="h-din-t1"><rect class="bl" x="993" y="2498" width="126" height="59"/><text class="t26" x="1056" y="2536.6">DIN (t-1)</text></g>
<g id="h-din"><rect class="bl" x="1287" y="2498" width="118" height="59"/><text class="t26" x="1346" y="2536.6">DIN</text></g>
</svg>
